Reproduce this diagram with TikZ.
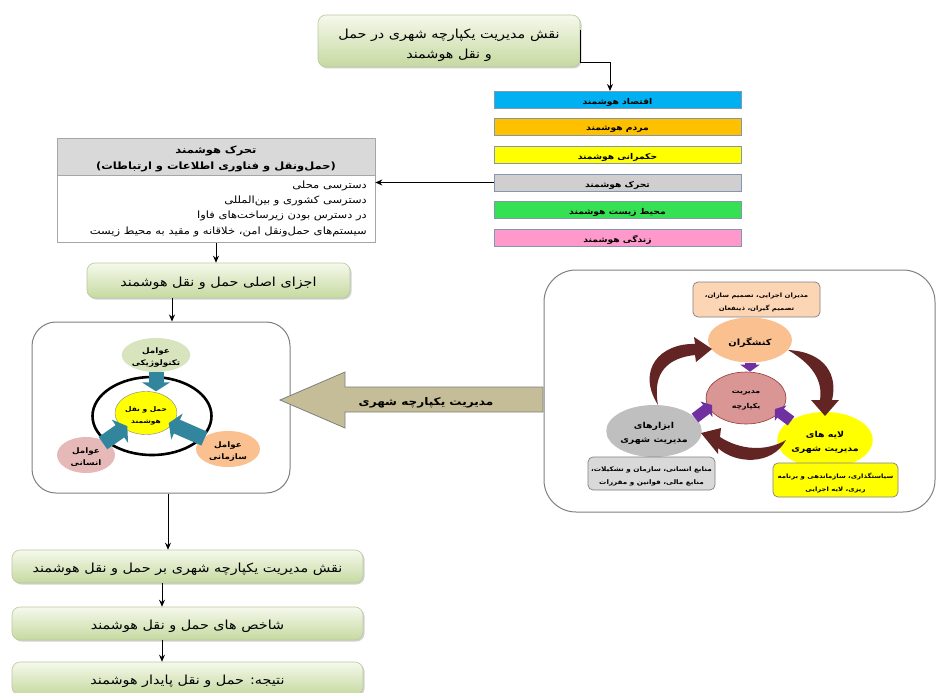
\documentclass[tikz,border=0pt]{standalone}
\usepackage{fontspec}
\setmainfont{DejaVu Sans}
\newfontfamily\fa[Script=Arabic,FakeStretch=1.15]{DejaVu Sans}
\TeXXeTstate=1
\usetikzlibrary{arrows.meta,shadows,calc,shapes.geometric}
\newcommand{\rtl}[1]{\raisebox{-2.5pt}[\height][\depth]{\beginR #1\endR}}
\definecolor{gtop}{HTML}{F5F9EC}
\definecolor{gbot}{HTML}{C6D9A0}
\definecolor{gbord}{HTML}{B9C9A0}
\definecolor{barb}{HTML}{8497B0}
\definecolor{cCyan}{HTML}{00B0F0}
\definecolor{cOrange}{HTML}{FFC000}
\definecolor{cYellow}{HTML}{FFFF00}
\definecolor{cGray}{HTML}{D0CECE}
\definecolor{cGreen}{HTML}{35E052}
\definecolor{cPink}{HTML}{FF99CC}
\definecolor{tabline}{HTML}{A6A6A6}
\definecolor{tabhead}{HTML}{D9D9D9}
\definecolor{panelb}{HTML}{808080}
\definecolor{techg}{HTML}{D7E4BD}
\definecolor{humanp}{HTML}{E6B9B8}
\definecolor{orgo}{HTML}{FAC090}
\definecolor{tealc}{HTML}{31859C}
\definecolor{khaki}{HTML}{C4BD97}
\definecolor{khakib}{HTML}{7F7F7F}
\definecolor{peach}{HTML}{FCD5B4}
\definecolor{mgmtc}{HTML}{D99694}
\definecolor{mgmtb}{HTML}{953735}
\definecolor{toolg}{HTML}{BFBFBF}
\definecolor{purp}{HTML}{7030A0}
\definecolor{dred}{HTML}{632523}
\begin{document}
\begin{tikzpicture}[x=1pt,y=-1pt,
  arr/.style={-{Stealth[length=7pt,width=6pt]}, line width=0.9pt, black},
  gbox/.style={draw=gbord, line width=0.6pt, rounded corners=8pt, top color=gtop, bottom color=gbot,
     drop shadow={shadow xshift=1.5pt, shadow yshift=-1.5pt, opacity=0.35}, align=center, inner sep=0pt,
     font=\fa\fontsize{12.5}{21}\selectfont},
  bar/.style={draw=barb, line width=0.8pt, minimum width=247pt, minimum height=17pt, inner sep=0pt,
     font=\fa\bfseries\fontsize{8}{9}\selectfont},
  panel/.style={draw=panelb, line width=1pt, inner sep=0pt},
  blob/.style={ellipse, inner sep=0pt, align=center, font=\fa\bfseries\fontsize{7.6}{12}\selectfont},
  rbox/.style={draw=panelb, line width=0.7pt, rounded corners=5pt, inner sep=0pt, align=center,
     font=\fa\bfseries\fontsize{6}{13}\selectfont},
  tealarr/.style={line width=15pt, tealc, -{Triangle[width=28pt,length=9pt]}},
  purparr/.style={line width=11pt, purp, -{Triangle[width=19pt,length=7pt]}},
  body/.style={anchor=east, inner sep=0pt, font=\fa\fontsize{10}{11}\selectfont},
]
\useasboundingbox (0,0) rectangle (937,693);
\fill[white] (0,0) rectangle (937,693);

% top box
\node[gbox, minimum width=262pt, minimum height=52pt, font=\fa\fontsize{12.5}{20}\selectfont] (top) at (449,41)
  {\raisebox{-2pt}[\height][\depth]{\rtl{نقش مدیریت یکپارچه شهری در حمل}}\\\raisebox{-2pt}[\height][\depth]{\rtl{و نقل هوشمند}}};

% coloured bars
\node[bar, fill=cCyan]   (c1) at (617.5,99.5)  {\rtl{اقتصاد هوشمند}};
\node[bar, fill=cOrange] (c2) at (617.5,126.5) {\rtl{مردم هوشمند}};
\node[bar, fill=cYellow] (c3) at (617.5,154.5) {\rtl{حکمرانی هوشمند}};
\node[bar, fill=cGray]   (c4) at (617.5,182.5) {\rtl{تحرک هوشمند}};
\node[bar, fill=cGreen]  (c5) at (617.5,209.5) {\rtl{محیط زیست هوشمند}};
\node[bar, fill=cPink]   (c6) at (617.5,237.5) {\rtl{زندگی هوشمند}};
\coordinate (c1in) at (610,91);
\draw[arr] ([yshift=11pt]top.east) -- ([yshift=-21pt]top.east) -| (c1in);

% table
\node[draw=tabline, fill=tabhead, line width=0.7pt, minimum width=318pt, minimum height=37pt, inner sep=0pt,
  align=center, font=\fa\bfseries\fontsize{10}{16}\selectfont] (tabh) at (216,156.5)
  {\rtl{تحرک هوشمند}\\\rtl{(حمل‌ونقل و فناوری اطلاعات و ارتباطات)}};
\node[draw=tabline, line width=0.7pt, minimum width=318pt, minimum height=67pt, inner sep=0pt, anchor=north]
  (tabb) at (tabh.south) {};
\node[body] (t1) at (367,183) {\rtl{دسترسی محلی}};
\node[body] (t2) at (367,198) {\rtl{دسترسی کشوری و بین‌المللی}};
\node[body] (t3) at (367,213.5) {\rtl{در دسترس بودن زیرساخت‌های فاوا}};
\node[body] (t4) at (367,229) {\rtl{سیستم‌های حمل‌ونقل امن، خلاقانه و مقید به محیط زیست}};
\draw[arr] (c4.west) -- (c4.west -| tabb.east);

% main components box
\node[gbox, minimum width=263pt, minimum height=35pt] (ajza) at (218.5,280.5)
  {\rtl{اجزای اصلی حمل و نقل هوشمند}};
\draw[arr] (tabb.south) -- (tabb.south |- ajza.north);

% left panel
\node[panel, rounded corners=24pt, minimum width=258pt, minimum height=171pt] (lp) at (161,407.5) {};
\coordinate (x172) at (172,0);
\draw[arr] (ajza.south -| x172) -- (lp.north -| x172);

\node[blob, fill=techg, minimum width=68pt, minimum height=34pt] (tech) at (156,355)
  {\rtl{عوامل}\\\rtl{تکنولوژیکی}};
\node[ellipse, draw=black, line width=2.6pt, minimum width=119pt, minimum height=78pt] (ring) at (152,416) {};
\node[blob, fill=cYellow, draw=gray, line width=0.4pt, minimum width=62pt, minimum height=43pt,
  font=\fa\bfseries\fontsize{6.5}{12}\selectfont] (core) at (146,413)
  {\rtl{حمل و نقل}\\\rtl{هوشمند}};
\node[blob, fill=humanp, minimum width=58pt, minimum height=36pt] (human) at (86,455)
  {\rtl{عوامل}\\\rtl{انسانی}};
\node[blob, fill=orgo, minimum width=64pt, minimum height=36pt] (org) at (228,449)
  {\rtl{عوامل}\\\rtl{سازمانی}};
\draw[tealarr] (tech.south) -- (tech.south |- core.north);
\draw[tealarr, shorten <=-3pt, shorten >=-4pt] (human) -- (core);
\draw[tealarr, shorten <=-2pt, shorten >=-4pt] (org) -- (core);

% big arrow
\draw[draw=khakib, fill=khaki, line width=0.8pt]
  (280,400) -- (345,372) -- (345,387) -- (543,387) -- (543,412) -- (345,412) -- (345,428) -- cycle;
\node[font=\fa\bfseries\fontsize{10.5}{11}\selectfont, inner sep=0pt] (bigl) at (426,400) {\rtl{مدیریت یکپارچه شهری}};

% right panel
\node[panel, rounded corners=32pt, minimum width=391pt, minimum height=242pt] (rp) at (739.5,391) {};
\node[rbox, fill=peach, minimum width=127pt, minimum height=35pt] (actbox) at (756.5,299.5)
  {\rtl{مدیران اجرایی، تصمیم سازان،}\\\rtl{تصمیم گیران، ذینفعان}};
\node[blob, fill=orgo, minimum width=84pt, minimum height=45pt, font=\fa\bfseries\fontsize{8.5}{11}\selectfont]
  (act) at (750,340) {\rtl{کنشگران}};
\node[blob, fill=mgmtc, draw=mgmtb, line width=0.6pt, minimum width=80pt, minimum height=52pt,
  font=\fa\bfseries\fontsize{6.8}{15}\selectfont] (mgmt) at (746,398) {\rtl{مدیریت}\\\rtl{یکپارچه}};
\node[blob, fill=toolg, minimum width=88pt, minimum height=52pt, font=\fa\bfseries\fontsize{8.2}{14}\selectfont]
  (tools) at (654,431) {\rtl{ابزارهای}\\\rtl{مدیریت شهری}};
\node[blob, fill=cYellow, minimum width=86pt, minimum height=56pt, font=\fa\bfseries\fontsize{8.2}{14}\selectfont]
  (layers) at (825,440) {\rtl{لایه های}\\\rtl{مدیریت شهری}};
\node[rbox, fill=tabhead, minimum width=127pt, minimum height=33pt, font=\fa\bfseries\fontsize{6.3}{13}\selectfont]
  (toolbox) at (651.5,473.5)
  {\rtl{منابع انسانی، سازمان و تشکیلات،}\\\rtl{منابع مالی، قوانین و مقررات}};
\node[rbox, fill=cYellow, minimum width=125pt, minimum height=34pt] (laybox) at (835.5,480)
  {\rtl{سیاستگذاری، سازماندهی و برنامه}\\\rtl{ریزی، لایه اجرایی}};

% purple arrows
\coordinate (p1s) at (695,418); \coordinate (p1e) at (712,405);
\coordinate (p2s) at (791,421); \coordinate (p2e) at (775,409);
\draw[purparr] (act.south) -- (act.south |- mgmt.north);
\draw[purparr] (p1s) -- (p1e);
\draw[purparr] (p2s) -- (p2e);

% dark red curved arrows
\fill[dred] (658,405) .. controls (636,370) and (660,343) .. (695,344)
  -- (694,337) -- (712,349) -- (696,362) -- (695,355)
  .. controls (668,358) and (652,372) .. cycle;
\fill[dred] (788,350) .. controls (826,352) and (838,376) .. (832,400)
  -- (839,400) -- (825,416) -- (811,400) -- (820,400)
  .. controls (823,380) and (812,364) .. cycle;
\fill[dred] (786,440) .. controls (772,466) and (735,464) .. (718,448)
  -- (718,454) -- (701,433) -- (721,428) -- (720,437)
  .. controls (740,450) and (766,452) .. cycle;

% lower chain
\node[gbox, minimum width=351pt, minimum height=33pt] (b1) at (187.5,566.5)
  {\rtl{نقش مدیریت یکپارچه شهری بر حمل و نقل هوشمند}};
\node[gbox, minimum width=351pt, minimum height=33pt] (b2) at (187.5,623.5)
  {\rtl{شاخص های حمل و نقل هوشمند}};
\node[gbox, minimum width=351pt, minimum height=33pt] (b3) at (187.5,678.5)
  {\rtl{نتیجه: حمل و نقل پایدار هوشمند}};
\coordinate (x168) at (168,0);
\coordinate (x162) at (162,0);
\draw[arr] (lp.south -| x168) -- (b1.north -| x168);
\draw[arr] (b1.south -| x162) -- (b2.north -| x162);
\draw[arr] (b2.south -| x162) -- (b3.north -| x162);
\end{tikzpicture}
\end{document}
